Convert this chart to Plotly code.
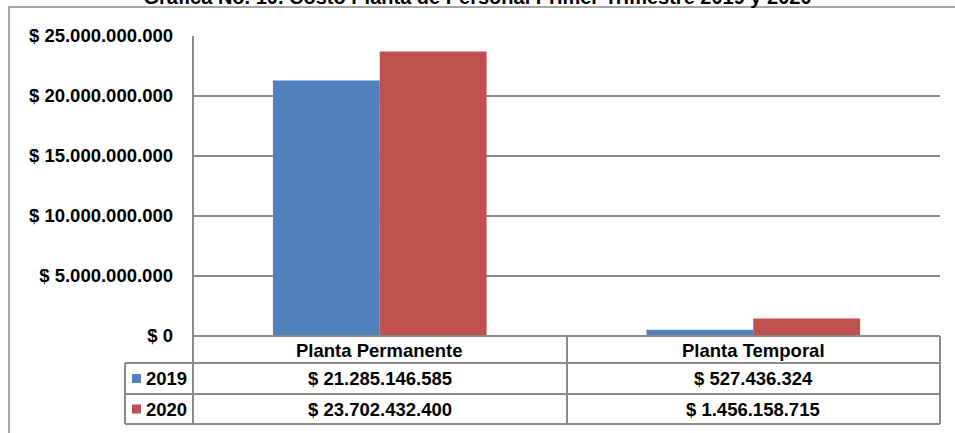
import plotly.graph_objects as go

categorias = ["Planta Permanente", "Planta Temporal"]
anios = ["2019", "2020"]
costo_2019 = [21285146585, 527436324]
costo_2020 = [23702432400, 1456158715]
y_ticks = [0, 5000000000, 10000000000, 15000000000, 20000000000, 25000000000]

COLORS = {"2019": "#4F81BD", "2020": "#C0504D"}
GRID = "#8a8a8a"
FONT = "Liberation Sans, Arial, sans-serif"

W, H = 955, 433
L, R, T, B = 193, 15, 36, 97
PW, PH = W - L - R, H - T - B


def px(x):
    return (x - L) / PW


def py(y):
    return (H - B - y) / PH


def pesos(v):
    return "$ " + f"{v:,}".replace(",", ".")


fig = go.Figure()
for anio, vals in zip(anios, [costo_2019, costo_2020]):
    fig.add_trace(go.Bar(x=categorias, y=vals, name=anio,
                         marker=dict(color=COLORS[anio], line=dict(width=0))))

shapes = []
# chart border
shapes.append(dict(type="rect", xref="paper", yref="paper", x0=px(9), x1=px(965),
                   y0=py(445), y1=py(7), line=dict(color=GRID, width=1.5)))


def hline(y, x0, x1):
    shapes.append(dict(type="line", xref="paper", yref="paper", x0=px(x0), x1=px(x1),
                       y0=py(y), y1=py(y), line=dict(color=GRID, width=2)))


def vline(x, y0, y1):
    shapes.append(dict(type="line", xref="paper", yref="paper", x0=px(x), x1=px(x),
                       y0=py(y0), y1=py(y1), line=dict(color=GRID, width=2)))


# data table grid under the plot
hline(336, 193, 940)
hline(363, 125, 940)
hline(394, 125, 940)
hline(424, 125, 940)
vline(125, 363, 424)
vline(193, 36, 424)
vline(567, 336, 424)
vline(940, 336, 424)

annotations = []
bold = dict(family=FONT, size=18.5, color="black")
for c in categorias:
    annotations.append(dict(x=c, xref="x", y=0, yref="paper", yanchor="middle",
                            yshift=-14, text=f"<b>{c}</b>", showarrow=False, font=bold))
row_centers = [378.5, 409]
for anio, vals, yc in zip(anios, [costo_2019, costo_2020], row_centers):
    for c, v in zip(categorias, vals):
        annotations.append(dict(x=c, xref="x", y=py(yc), yref="paper", yanchor="middle",
                                text=f"<b>{pesos(v)}</b>", showarrow=False, font=bold))
    annotations.append(dict(x=px(144), xref="paper", y=py(yc), yref="paper",
                            xanchor="left", yanchor="middle", text=f"<b>{anio}</b>",
                            showarrow=False, font=bold))
    shapes.append(dict(type="rect", xref="paper", yref="paper", x0=px(132), x1=px(141),
                       y0=py(yc + 4.5), y1=py(yc - 4.5), fillcolor=COLORS[anio],
                       line=dict(width=0)))

fig.update_layout(
    width=W, height=H,
    margin=dict(l=L, r=R, t=T, b=B),
    paper_bgcolor="white", plot_bgcolor="white",
    showlegend=False,
    barmode="group", bargap=0.428, bargroupgap=0,
    font=dict(family=FONT, color="black"),
    title=dict(text="<b>Grafica No. 10. Costo Planta de Personal Primer Trimestre 2019 y 2020</b>",
               x=0.5, xref="container", xanchor="center",
               y=1 - 4 / H, yref="container", yanchor="bottom",
               font=dict(family=FONT, size=20, color="black")),
    xaxis=dict(showticklabels=False, showgrid=False, zeroline=False, showline=False),
    yaxis=dict(range=[0, 25e9], tickvals=y_ticks,
               ticktext=[f"<b>{pesos(v)}</b>" for v in y_ticks],
               showgrid=True, gridcolor=GRID, gridwidth=1.5, zeroline=False,
               showline=False, ticks="", ticklabelstandoff=19,
               tickfont=dict(family=FONT, size=18.5, color="black")),
    shapes=shapes,
    annotations=annotations,
)

fig.write_html("out.html", config={"displayModeBar": False},
               post_script="document.body.style.margin = '0';")
